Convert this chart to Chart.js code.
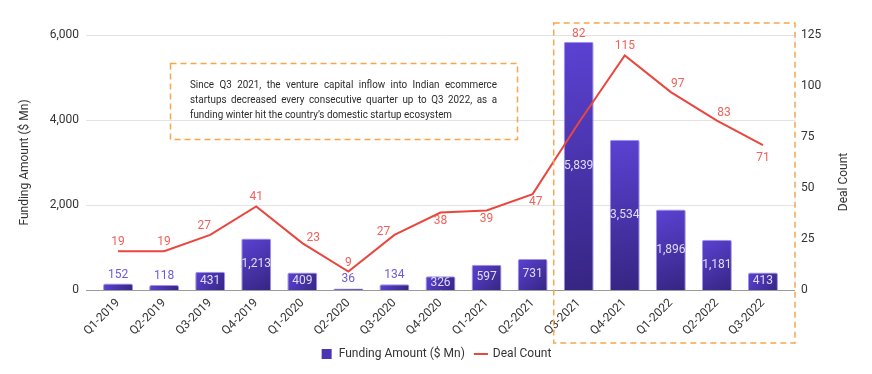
<!DOCTYPE html>
<html>
<head>
<meta charset="utf-8">
<script src="https://cdn.jsdelivr.net/npm/chart.js@4.4.0/dist/chart.umd.min.js"></script>
<style>
  html, body { margin: 0; padding: 0; background: #fff; }
  #wrap { width: 872px; height: 374px; }
</style>
</head>
<body>
<div id="wrap"><canvas id="chart" width="872" height="374"></canvas></div>
<script>
// --- data ---
const quarters = ['Q1-2019', 'Q2-2019', 'Q3-2019', 'Q4-2019', 'Q1-2020', 'Q2-2020', 'Q3-2020', 'Q4-2020',
                  'Q1-2021', 'Q2-2021', 'Q3-2021', 'Q4-2021', 'Q1-2022', 'Q2-2022', 'Q3-2022'];
const fundingAmount = [152, 118, 431, 1213, 409, 36, 134, 326, 597, 731, 5839, 3534, 1896, 1181, 413];
const dealCount = [19, 19, 27, 41, 23, 9, 27, 38, 39, 47, 82, 115, 97, 83, 71];
const fundingTicks = [0, 2000, 4000, 6000];
const dealTicks = [0, 25, 50, 75, 100, 125];
const noteLines = [
  'Since Q3 2021, the venture capital inflow into Indian ecommerce',
  'startups decreased every consecutive quarter up to Q3 2022, as a',
  'funding winter hit the country\u2019s domestic startup ecosystem'
];

// where each deal-count label sits relative to its point
const dealLabelSide = ['above', 'above', 'aboveLeft', 'above', 'right', 'above', 'left', 'below',
                       'below', 'belowRight', 'bar', 'above', 'aboveRight', 'aboveRight', 'belowFar'];
const sideOffsets = {
  above: [0, -9], aboveLeft: [-6, -9], aboveRight: [7, -8], right: [11, -5], left: [-11, -3],
  below: [0, 9], belowRight: [3, 8], belowFar: [0, 13]
};

const FONT = 'Roboto, "Noto Sans", sans-serif';
const fmt = v => v.toLocaleString('en-US');

function barFill(ctx) {
  const chart = ctx.chart;
  const { chartArea, scales } = chart;
  if (!chartArea || ctx.type !== 'data') return '#4a35b4';
  const x = scales.x.getPixelForValue(ctx.dataIndex);
  const top = scales.y.getPixelForValue(fundingAmount[ctx.dataIndex]);
  const base = scales.y.getPixelForValue(0);
  const g = chart.ctx.createLinearGradient(x - 15, top, x + 15, base);
  g.addColorStop(0, '#5b42d3');
  g.addColorStop(1, '#372582');
  return g;
}

// gridlines run a little past the plot on both sides
const gridPlugin = {
  id: 'gridLines',
  beforeDatasetsDraw(chart) {
    const { ctx, chartArea, scales } = chart;
    ctx.save();
    fundingTicks.forEach(t => {
      const y = Math.round(scales.y.getPixelForValue(t)) + 0.5;
      ctx.strokeStyle = t === 0 ? '#9a9a9a' : '#e3e3e3';
      ctx.lineWidth = 1;
      ctx.beginPath();
      ctx.moveTo(chartArea.left - 9, y);
      ctx.lineTo(chartArea.right + 9, y);
      ctx.stroke();
    });
    ctx.restore();
  }
};

const labelPlugin = {
  id: 'valueLabels',
  afterDatasetsDraw(chart) {
    const ctx = chart.ctx;
    const bars = chart.getDatasetMeta(0).data;
    const pts = chart.getDatasetMeta(1).data;
    ctx.save();
    ctx.font = '12px ' + FONT;
    ctx.textAlign = 'center';
    ctx.textBaseline = 'middle';
    bars.forEach((bar, i) => {
      const h = bar.base - bar.y;
      if (h >= 12) {
        ctx.fillStyle = 'rgba(236,233,250,0.92)';
        ctx.fillText(fmt(fundingAmount[i]), bar.x, bar.y + h / 2);
      } else {
        ctx.fillStyle = '#6b5bd8';
        ctx.fillText(fmt(fundingAmount[i]), bar.x, bar.y - 9);
      }
    });
    ctx.fillStyle = '#f0625a';
    pts.forEach((p, i) => {
      const side = dealLabelSide[i];
      if (side === 'bar') {
        ctx.fillText(dealCount[i], p.x, bars[i].y - 8);
      } else {
        const [dx, dy] = sideOffsets[side];
        ctx.fillText(dealCount[i], p.x + dx, p.y + dy);
      }
    });
    ctx.restore();
  }
};

function justifyLine(ctx, text, x, y, width, stretch) {
  const words = text.split(' ');
  if (!stretch) { ctx.fillText(text, x, y); return; }
  const wordsW = words.reduce((s, w) => s + ctx.measureText(w).width, 0);
  const gap = (width - wordsW) / (words.length - 1);
  let cx = x;
  words.forEach(w => { ctx.fillText(w, cx, y); cx += ctx.measureText(w).width + gap; });
}

const notePlugin = {
  id: 'notes',
  afterDraw(chart) {
    const { ctx, chartArea, scales } = chart;
    ctx.save();
    ctx.setLineDash([6, 4]);
    ctx.strokeStyle = '#f6a74c';
    ctx.lineWidth = 1.5;
    // callout box
    ctx.strokeRect(170.5, 63.5, 347, 76);
    // highlight box round Q3-2021..Q3-2022
    const bx = scales.x.getPixelForValue(10) - 25;
    ctx.strokeRect(bx, 23, chartArea.right + 9 - bx, 320);
    ctx.setLineDash([]);

    // callout text, condensed and justified
    ctx.fillStyle = '#2b2b2b';
    ctx.textBaseline = 'middle';
    ctx.textAlign = 'left';
    ctx.font = '11px ' + FONT;
    const sx = 262 / ctx.measureText(noteLines[2]).width;
    ctx.translate(190, 0);
    ctx.scale(sx, 1);
    const ys = [85, 100, 115];
    noteLines.forEach((ln, i) => justifyLine(ctx, ln, 0, ys[i], 307 / sx, i < 2));
    ctx.restore();

    // right axis title, reading bottom to top
    ctx.save();
    ctx.translate(844, 182);
    ctx.rotate(-Math.PI / 2);
    ctx.font = '12px ' + FONT;
    ctx.fillStyle = '#333';
    ctx.textAlign = 'center';
    ctx.textBaseline = 'middle';
    ctx.fillText('Deal Count', 0, 0);
    ctx.restore();
  }
};

new Chart(document.getElementById('chart'), {
  data: {
    labels: quarters,
    datasets: [
      {
        type: 'bar',
        label: 'Funding Amount ($ Mn)',
        data: fundingAmount,
        yAxisID: 'y',
        backgroundColor: barFill,
        borderColor: 'rgba(118,98,228,0.7)',
        borderWidth: 1,
        borderRadius: 2,
        borderSkipped: 'bottom',
        barPercentage: 0.65,
        categoryPercentage: 1,
        order: 1
      },
      {
        type: 'line',
        label: 'Deal Count',
        data: dealCount,
        yAxisID: 'y1',
        borderColor: '#e9473e',
        borderWidth: 2,
        pointRadius: 0,
        tension: 0,
        order: 0
      }
    ]
  },
  options: {
    responsive: false,
    animation: false,
    layout: { padding: { top: 35, bottom: 4, left: 0, right: 0 } },
    plugins: {
      tooltip: { enabled: false },
      legend: {
        position: 'bottom',
        labels: {
          usePointStyle: true,
          boxHeight: 10,
          padding: 10,
          color: '#333',
          font: { family: FONT, size: 12 },
          generateLabels(chart) {
            const items = Chart.defaults.plugins.legend.labels.generateLabels(chart);
            items.forEach(it => {
              if (it.datasetIndex === 0) {
                it.pointStyle = 'rect';
                it.fillStyle = '#4a35b5';
                it.strokeStyle = '#4a35b5';
                it.lineWidth = 0;
              } else {
                it.pointStyle = 'line';
                it.strokeStyle = '#e9473e';
                it.lineWidth = 2;
              }
            });
            return items.sort((a, b) => a.datasetIndex - b.datasetIndex);
          }
        }
      }
    },
    scales: {
      x: {
        offset: true,
        grid: { display: false, drawTicks: false },
        border: { display: false },
        ticks: {
          color: '#333',
          font: { family: FONT, size: 12 },
          minRotation: 45,
          maxRotation: 45,
          padding: 6
        },
        afterFit(s) { s.height = 48; }
      },
      y: {
        position: 'left',
        min: fundingTicks[0],
        max: fundingTicks[fundingTicks.length - 1],
        grid: { display: false, drawTicks: false },
        border: { display: false },
        ticks: {
          stepSize: fundingTicks[1] - fundingTicks[0],
          color: '#333',
          padding: 16,
          font: { family: FONT, size: 12 },
          callback: v => fmt(v)
        },
        title: {
          display: true,
          text: 'Funding Amount ($ Mn)',
          color: '#333',
          font: { family: FONT, size: 12 },
          padding: { top: 18, bottom: 0 }
        },
        afterFit(s) { s.width = 95; }
      },
      y1: {
        position: 'right',
        min: dealTicks[0],
        max: dealTicks[dealTicks.length - 1],
        grid: { display: false, drawTicks: false },
        border: { display: false },
        ticks: {
          stepSize: dealTicks[1] - dealTicks[0],
          color: '#333',
          padding: 15,
          font: { family: FONT, size: 12 }
        },
        afterFit(s) { s.width = 86; }
      }
    }
  },
  plugins: [gridPlugin, labelPlugin, notePlugin]
});
</script>
</body>
</html>
